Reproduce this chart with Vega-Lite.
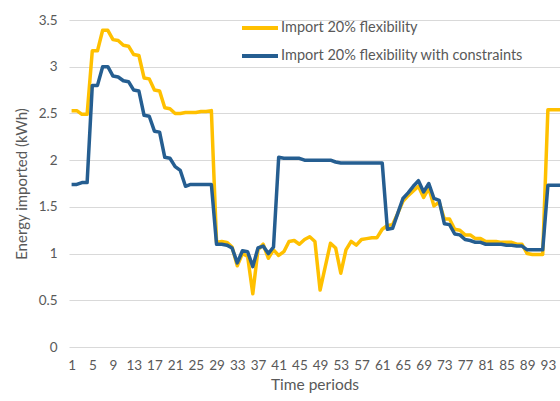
{
  "$schema": "https://vega.github.io/schema/vega-lite/v6.json",
  "width": 491,
  "height": 327,
  "autosize": "none",
  "padding": {"left": 69, "top": 20, "right": 0, "bottom": 54},
  "background": "white",
  "config": {
    "font": "Lato",
    "view": {"stroke": null}
  },
  "data": {
    "values": [
      {"p":1,"a":2.53,"b":1.74},{"p":2,"a":2.53,"b":1.74},{"p":3,"a":2.49,"b":1.76},{"p":4,"a":2.49,"b":1.76},
      {"p":5,"a":3.17,"b":2.80},{"p":6,"a":3.17,"b":2.80},{"p":7,"a":3.39,"b":3.00},{"p":8,"a":3.39,"b":3.00},
      {"p":9,"a":3.29,"b":2.90},{"p":10,"a":3.28,"b":2.89},{"p":11,"a":3.23,"b":2.85},{"p":12,"a":3.22,"b":2.84},
      {"p":13,"a":3.13,"b":2.75},{"p":14,"a":3.12,"b":2.74},{"p":15,"a":2.88,"b":2.48},{"p":16,"a":2.87,"b":2.47},
      {"p":17,"a":2.75,"b":2.31},{"p":18,"a":2.74,"b":2.30},{"p":19,"a":2.56,"b":2.03},{"p":20,"a":2.55,"b":2.02},
      {"p":21,"a":2.50,"b":1.93},{"p":22,"a":2.50,"b":1.89},{"p":23,"a":2.51,"b":1.72},{"p":24,"a":2.51,"b":1.74},
      {"p":25,"a":2.51,"b":1.74},{"p":26,"a":2.52,"b":1.74},{"p":27,"a":2.52,"b":1.74},{"p":28,"a":2.53,"b":1.74},
      {"p":29,"a":1.12,"b":1.10},{"p":30,"a":1.13,"b":1.10},{"p":31,"a":1.12,"b":1.09},{"p":32,"a":1.07,"b":1.06},
      {"p":33,"a":0.87,"b":0.90},{"p":34,"a":1.00,"b":1.03},{"p":35,"a":0.97,"b":1.02},{"p":36,"a":0.57,"b":0.86},
      {"p":37,"a":1.04,"b":1.06},{"p":38,"a":1.10,"b":1.08},{"p":39,"a":0.95,"b":1.00},{"p":40,"a":1.04,"b":1.07},
      {"p":41,"a":0.98,"b":2.03},{"p":42,"a":1.02,"b":2.02},{"p":43,"a":1.13,"b":2.02},{"p":44,"a":1.14,"b":2.02},
      {"p":45,"a":1.10,"b":2.02},{"p":46,"a":1.15,"b":2.00},{"p":47,"a":1.18,"b":2.00},{"p":48,"a":1.13,"b":2.00},
      {"p":49,"a":0.61,"b":2.00},{"p":50,"a":0.86,"b":2.00},{"p":51,"a":1.11,"b":2.00},{"p":52,"a":1.06,"b":1.98},
      {"p":53,"a":0.79,"b":1.97},{"p":54,"a":1.04,"b":1.97},{"p":55,"a":1.13,"b":1.97},{"p":56,"a":1.09,"b":1.97},
      {"p":57,"a":1.15,"b":1.97},{"p":58,"a":1.16,"b":1.97},{"p":59,"a":1.17,"b":1.97},{"p":60,"a":1.17,"b":1.97},
      {"p":61,"a":1.26,"b":1.97},{"p":62,"a":1.30,"b":1.26},{"p":63,"a":1.31,"b":1.27},{"p":64,"a":1.43,"b":1.43},
      {"p":65,"a":1.56,"b":1.59},{"p":66,"a":1.62,"b":1.65},{"p":67,"a":1.67,"b":1.72},{"p":68,"a":1.72,"b":1.78},
      {"p":69,"a":1.60,"b":1.66},{"p":70,"a":1.70,"b":1.75},{"p":71,"a":1.51,"b":1.59},{"p":72,"a":1.55,"b":1.57},
      {"p":73,"a":1.37,"b":1.32},{"p":74,"a":1.37,"b":1.31},{"p":75,"a":1.26,"b":1.21},{"p":76,"a":1.25,"b":1.20},
      {"p":77,"a":1.20,"b":1.15},{"p":78,"a":1.20,"b":1.14},{"p":79,"a":1.16,"b":1.12},{"p":80,"a":1.16,"b":1.12},
      {"p":81,"a":1.13,"b":1.10},{"p":82,"a":1.13,"b":1.10},{"p":83,"a":1.13,"b":1.10},{"p":84,"a":1.12,"b":1.10},
      {"p":85,"a":1.12,"b":1.09},{"p":86,"a":1.12,"b":1.09},{"p":87,"a":1.10,"b":1.08},{"p":88,"a":1.10,"b":1.08},
      {"p":89,"a":1.00,"b":1.04},{"p":90,"a":0.99,"b":1.04},{"p":91,"a":0.99,"b":1.04},{"p":92,"a":0.99,"b":1.04},
      {"p":93,"a":2.54,"b":1.73},{"p":94,"a":2.54,"b":1.73},{"p":95,"a":2.54,"b":1.73},{"p":96,"a":2.54,"b":1.73}
    ]
  },
  "transform": [
    {"fold": ["a", "b"], "as": ["key", "value"]}
  ],
  "mark": {"type": "line", "strokeWidth": 3.5, "clip": true, "strokeJoin": "round"},
  "encoding": {
    "x": {
      "field": "p",
      "type": "quantitative",
      "scale": {"domain": [0.5, 95.34], "nice": false, "zero": false},
      "axis": {
        "title": "Time periods",
        "values": [1,5,9,13,17,21,25,29,33,37,41,45,49,53,57,61,65,69,73,77,81,85,89,93],
        "grid": false,
        "ticks": false,
        "domain": false,
        "labelFontSize": 13.5,
        "labelColor": "#595959",
        "labelPadding": 11,
        "labelFlush": false,
        "labelOverlap": false,
        "titleFontSize": 15.5,
        "titleFontWeight": "normal",
        "titleColor": "#595959",
        "titlePadding": 6
      }
    },
    "y": {
      "field": "value",
      "type": "quantitative",
      "scale": {"domain": [0, 3.5], "nice": false},
      "axis": {
        "title": "Energy imported (kWh)",
        "values": [0, 0.5, 1, 1.5, 2, 2.5, 3, 3.5],
        "format": "~g",
        "grid": true,
        "gridColor": "#d9d9d9",
        "gridWidth": 1,
        "ticks": false,
        "domain": false,
        "labelFontSize": 13.5,
        "labelColor": "#595959",
        "labelPadding": 12,
        "titleFontSize": 15,
        "titleFontWeight": "normal",
        "titleColor": "#595959",
        "titlePadding": 9
      }
    },
    "color": {
      "field": "key",
      "type": "nominal",
      "scale": {"domain": ["a", "b"], "range": ["#FFC000", "#255E91"]},
      "legend": {
        "title": null,
        "orient": "none",
        "legendX": 171,
        "legendY": -12,
        "symbolType": "stroke",
        "symbolSize": 1296,
        "symbolStrokeWidth": 4,
        "labelExpr": "datum.value == 'a' ? 'Import 20% flexibility' : 'Import 20% flexibility with constraints'",
        "labelFontSize": 14.5,
        "labelColor": "#595959",
        "labelOffset": 1,
        "labelLimit": 400,
        "rowPadding": -2
      }
    }
  }
}
